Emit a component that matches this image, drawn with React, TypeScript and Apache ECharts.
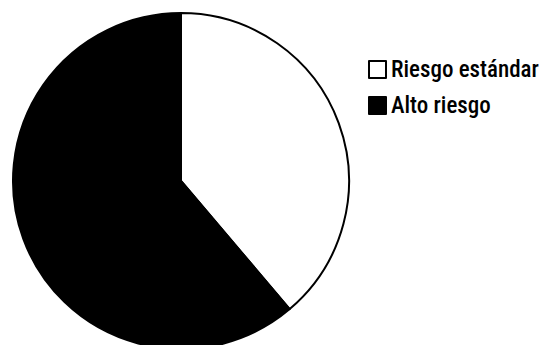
import React, { useEffect, useRef } from "react";
import * as echarts from "echarts";

const categories = ["Riesgo estándar", "Alto riesgo"];
const values = [38.8, 61.2];
const colors = ["#ffffff", "#000000"];

export default function App() {
  const ref = useRef<HTMLDivElement>(null);
  useEffect(() => {
    document.body.style.margin = "0";
    const chart = echarts.init(ref.current!, null, { renderer: "svg" });
    chart.setOption({
      animation: false,
      backgroundColor: "#ffffff",
      legend: {
        orient: "vertical",
        left: 363,
        top: 53,
        itemWidth: 17,
        itemHeight: 17,
        itemGap: 13,
        icon: "rect",
        textStyle: {
          fontFamily: "'Liberation Sans Narrow', 'Arial Narrow', 'Roboto Condensed', sans-serif",
          fontSize: 23,
          fontWeight: 500,
          color: "#000",
        },
        data: categories.map((c, i) => ({
          name: c,
          itemStyle: { color: colors[i], borderColor: "#000", borderWidth: 2 },
        })),
      },
      series: [
        {
          type: "pie",
          center: [181, 181],
          radius: 168,
          startAngle: 90,
          clockwise: true,
          label: { show: false },
          labelLine: { show: false },
          emphasis: { disabled: true },
          itemStyle: { borderColor: "#000", borderWidth: 2 },
          data: categories.map((c, i) => ({
            name: c,
            value: values[i],
            itemStyle: { color: colors[i] },
          })),
        },
      ],
    });
    return () => chart.dispose();
  }, []);
  return <div ref={ref} style={{ width: 544, height: 345 }} />;
}
